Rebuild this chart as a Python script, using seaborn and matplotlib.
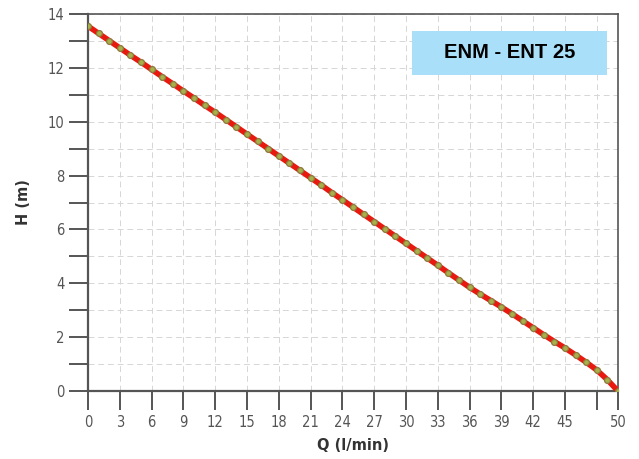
import pandas as pd
import seaborn as sns
import numpy as np
import matplotlib
matplotlib.use('Agg')
import matplotlib.pyplot as plt
from matplotlib.patches import Rectangle

# pump curve
q = list(range(0, 51))
h = [13.55, 13.28, 13.01, 12.74, 12.47, 12.21, 11.94, 11.67, 11.41, 11.14,
     10.88, 10.61, 10.35, 10.08, 9.81, 9.54, 9.27, 9.00, 8.73, 8.46,
     8.19, 7.92, 7.65, 7.37, 7.10, 6.83, 6.56, 6.29, 6.02, 5.75,
     5.48, 5.21, 4.94, 4.67, 4.39, 4.12, 3.85, 3.60, 3.36, 3.12,
     2.87, 2.61, 2.35, 2.09, 1.84, 1.60, 1.34, 1.07, 0.78, 0.42, 0.00]
x_ticks = [0, 3, 6, 9, 12, 15, 18, 21, 24, 27, 30, 33, 36, 39, 42, 45, 48, 50]
x_labels = ['0', '3', '6', '9', '12', '15', '18', '21', '24', '27', '30', '33',
            '36', '39', '42', '45', '', '50']
y_ticks = list(range(0, 15))
y_labels = [str(v) if v % 2 == 0 else '' for v in y_ticks]
model = 'ENM - ENT 25'

df = pd.DataFrame({'Q': q, 'H': h})

sns.set_style('white')
fig = plt.figure(figsize=(6.39, 4.59), dpi=100)
ax = fig.add_axes([0.1377, 0.148, 0.8294, 0.8215])

sns.lineplot(data=df, x='Q', y='H', ax=ax, color='#e8190f', linewidth=4.0,
             marker='o', markersize=4.2, markerfacecolor='#a8b04a',
             markeredgecolor='#8c7a3c', markeredgewidth=0.9, zorder=3)

ax.set_xlim(0, 50)
ax.set_ylim(0, 14)
ax.set_xticks(x_ticks)
ax.set_xticklabels(x_labels)
ax.set_yticks(y_ticks)
ax.set_yticklabels(y_labels)

ax.grid(True, linestyle=(0, (6, 4)), color='#d6d6d6', linewidth=0.7)
ax.tick_params(axis='both', direction='out', length=14, width=1.4,
               bottom=True, left=True, color='#555555', labelcolor='#555555',
               labelsize=10.5, pad=3)
for lab in ax.get_xticklabels() + ax.get_yticklabels():
    lab.set_fontstretch('condensed')

for side in ['left', 'bottom']:
    ax.spines[side].set_color('#555555')
    ax.spines[side].set_linewidth(1.6)
for side in ['top', 'right']:
    ax.spines[side].set_color('#555555')
    ax.spines[side].set_linewidth(1.2)

ax.set_xlabel('Q (l/min)', fontsize=10.5, fontweight='bold', color='#333333', labelpad=6)
ax.set_ylabel('H (m)', fontsize=10.5, fontweight='bold', color='#333333', labelpad=12)

# model label box
ax.add_patch(Rectangle((0.611, 0.838), 0.368, 0.117, transform=ax.transAxes,
                       facecolor='#a9dff8', edgecolor='none', zorder=4))
ax.text(0.795, 0.8966, model, transform=ax.transAxes, ha='center', va='center',
        fontsize=14.5, fontweight='bold', family='Liberation Sans', color='black', zorder=5)

plt.savefig('out.png', dpi=100)
